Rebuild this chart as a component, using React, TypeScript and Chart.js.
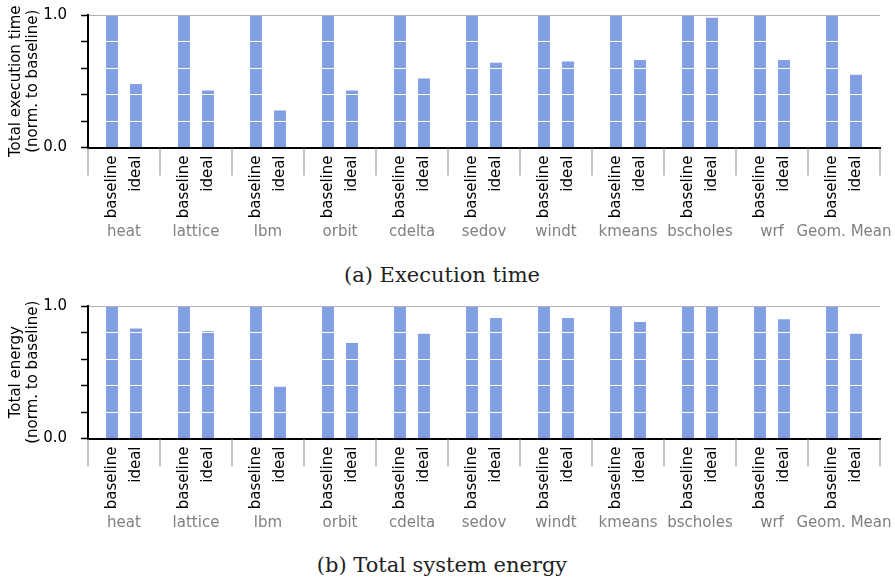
import React, { useEffect, useRef } from "react";
import { Chart, registerables } from "chart.js";

Chart.register(...registerables);

const groups = ["heat", "lattice", "lbm", "orbit", "cdelta", "sedov", "windt", "kmeans", "bscholes", "wrf", "Geom. Mean"];
const seriesNames = ["baseline", "ideal"];
const timeBaseline = [1, 1, 1, 1, 1, 1, 1, 1, 1, 1, 1];
const timeIdeal = [0.48, 0.43, 0.28, 0.43, 0.52, 0.64, 0.65, 0.66, 0.98, 0.66, 0.55];
const energyBaseline = [1, 1, 1, 1, 1, 1, 1, 1, 1, 1, 1];
const energyIdeal = [0.83, 0.81, 0.39, 0.72, 0.79, 0.91, 0.91, 0.88, 1.0, 0.9, 0.79];
const yTickLabels = ["0.0", "1.0"];

const BAR_COLOR = "#829fe3";
const FONT = "DejaVu Sans";
const CANVAS_W = 895;
const CANVAS_H = 250;

const xLabelsPlugin = {
  id: "xLabels",
  afterDraw(chart: any) {
    const ctx = chart.ctx;
    const xs = chart.scales.x;
    const area = chart.chartArea;
    const n = groups.length;
    ctx.save();
    ctx.strokeStyle = "#b0b0b0";
    ctx.lineWidth = 1.5;
    for (let i = 0; i <= n; i++) {
      let x;
      if (i === 0) x = area.left;
      else if (i === n) x = area.right;
      else x = (xs.getPixelForValue(i - 1) + xs.getPixelForValue(i)) / 2;
      ctx.beginPath();
      ctx.moveTo(x, area.bottom + 1);
      ctx.lineTo(x, area.bottom + 28);
      ctx.stroke();
    }
    ctx.font = `15px "${FONT}"`;
    ctx.fillStyle = "#000";
    ctx.textAlign = "right";
    ctx.textBaseline = "middle";
    chart.data.datasets.forEach((ds: any, di: number) => {
      const meta = chart.getDatasetMeta(di);
      meta.data.forEach((el: any) => {
        ctx.save();
        ctx.translate(el.x, area.bottom + 8);
        ctx.rotate(-Math.PI / 2);
        ctx.fillText(ds.label, 0, 0);
        ctx.restore();
      });
    });
    ctx.fillStyle = "#808080";
    ctx.textAlign = "center";
    ctx.textBaseline = "middle";
    groups.forEach((g, i) => {
      ctx.fillText(g, xs.getPixelForValue(i), area.bottom + 85);
    });
    ctx.restore();
  },
};

function Panel({ title, baseline, ideal }: { title: string[]; baseline: number[]; ideal: number[] }) {
  const ref = useRef<HTMLCanvasElement | null>(null);
  useEffect(() => {
    if (!ref.current) return;
    const chart = new Chart(ref.current, {
      type: "bar",
      data: {
        labels: groups,
        datasets: [
          { label: seriesNames[0], data: baseline, backgroundColor: BAR_COLOR, borderWidth: 0 },
          { label: seriesNames[1], data: ideal, backgroundColor: BAR_COLOR, borderWidth: 0 },
        ],
      },
      options: {
        responsive: false,
        animation: false,
        devicePixelRatio: 1,
        datasets: { bar: { categoryPercentage: 2 / 3, barPercentage: 0.5 } },
        layout: { padding: { top: 15, right: 15, left: 0, bottom: 0 } },
        plugins: { legend: { display: false }, tooltip: { enabled: false }, title: { display: false } },
        scales: {
          x: {
            afterFit: (s: any) => {
              s.height = CANVAS_H - 147.5;
              s.paddingLeft = 0;
              s.paddingRight = 0;
            },
            ticks: { display: false },
            grid: { display: false },
            border: { display: true, color: "#000", width: 2, z: 1 },
          },
          y: {
            min: 0,
            max: 1,
            afterFit: (s: any) => {
              s.width = 88;
              s.paddingTop = 0;
              s.paddingBottom = 0;
            },
            ticks: {
              stepSize: 0.2,
              autoSkip: false,
              padding: 14,
              color: "#000",
              font: { family: FONT, size: 15 },
              callback: (v: any) => {
                const num = Number(v);
                if (Math.abs(num) < 1e-6) return yTickLabels[0];
                if (Math.abs(num - 1) < 1e-6) return yTickLabels[1];
                return "";
              },
            },
            grid: {
              z: 1,
              lineWidth: 1,
              drawTicks: true,
              tickLength: 7,
              tickWidth: 1.5,
              tickColor: "#000",
              color: (c: any) => {
                const v = c.tick ? c.tick.value : 0;
                if (v < 1e-6) return "rgba(0,0,0,0)";
                if (v > 0.999) return "#b0b0b0";
                return "#ffffff";
              },
            },
            border: { display: true, color: "#000", width: 2, z: 1 },
            title: {
              display: true,
              text: title,
              color: "#000",
              font: { family: FONT, size: 15, lineHeight: 1.1 },
              padding: { top: 8, bottom: 0 },
            },
          },
        },
      },
      plugins: [xLabelsPlugin],
    } as any);
    return () => chart.destroy();
  }, []);
  return <canvas ref={ref} width={CANVAS_W} height={CANVAS_H} style={{ display: "block" }} />;
}

const captionStyle: React.CSSProperties = {
  position: "absolute",
  left: 0,
  width: 884,
  height: 24,
  lineHeight: "24px",
  textAlign: "center",
  fontFamily: '"DejaVu Serif", serif',
  fontSize: 21,
  color: "#222",
  whiteSpace: "nowrap",
};

export default function App() {
  return (
    <div style={{ position: "absolute", left: 0, top: 0, width: 895, height: 580, background: "#fff", overflow: "hidden" }}>
      <div style={{ position: "absolute", left: 0, top: 0 }}>
        <Panel title={["Total execution time", "(norm. to baseline)"]} baseline={timeBaseline} ideal={timeIdeal} />
      </div>
      <div style={{ ...captionStyle, top: 263 }}>(a) Execution time</div>
      <div style={{ position: "absolute", left: 0, top: 290.6 }}>
        <Panel title={["Total energy", "(norm. to baseline)"]} baseline={energyBaseline} ideal={energyIdeal} />
      </div>
      <div style={{ ...captionStyle, top: 553 }}>(b) Total system energy</div>
    </div>
  );
}
